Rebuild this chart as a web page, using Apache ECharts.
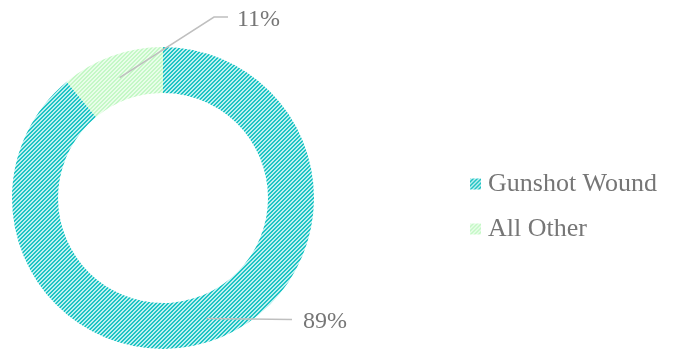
<!DOCTYPE html>
<html>
<head>
<meta charset="utf-8">
<script src="https://cdn.jsdelivr.net/npm/echarts@6/dist/echarts.min.js"></script>
<style>
  html, body { margin: 0; padding: 0; background: #ffffff; }
  #chart { width: 679px; height: 351px; }
</style>
</head>
<body>
<div id="chart"></div>
<script>
// Share of cases by cause
const categories = ['Gunshot Wound', 'All Other'];
const shares = [89, 11];

// Hatch fills: dark upward-diagonal stripes on a pale ground
function hatch(ground, stripe) {
  const c = document.createElement('canvas');
  c.width = 8; c.height = 8;
  const ctx = c.getContext('2d');
  ctx.fillStyle = ground;
  ctx.fillRect(0, 0, 8, 8);
  ctx.fillStyle = stripe;
  for (let y = 0; y < 8; y++) {
    for (let x = 0; x < 8; x++) {
      if ((x + y) % 4 >= 2) ctx.fillRect(x, y, 1, 1);
    }
  }
  return { image: c, repeat: 'repeat' };
}
const fills = [hatch('#bdefef', '#1fc4c4'), hatch('#e9fde9', '#c4f8c6')];

const font = 'Liberation Serif';
const grey = '#767676';

// Where each callout text sits and how its leader bends into it
const callouts = [
  { x: 303, y: 322, bend: (p, x, y) => [p, [x - 11, p[1] + 1]] },
  { x: 237, y: 20, bend: (p, x, y) => [p, [x - 23, y - 3], [x - 9, y - 3]] }
];

const chart = echarts.init(document.getElementById('chart'), null, { renderer: 'canvas' });

chart.setOption({
  animation: false,
  legend: {
    orient: 'vertical',
    left: 465,
    top: 166,
    itemWidth: 11,
    itemHeight: 11,
    itemGap: 19,
    icon: 'rect',
    textStyle: { fontFamily: font, fontSize: 26, color: grey, padding: [0, 0, 0, 2] },
    data: categories
  },
  series: [
    {
      name: 'ring',
      type: 'pie',
      center: [163, 198],
      radius: [105, 151],
      startAngle: 90,
      clockwise: true,
      z: 2,
      label: { show: false },
      labelLine: { show: false },
      emphasis: { disabled: true },
      itemStyle: { borderWidth: 0 },
      data: categories.map((name, i) => ({
        name, value: shares[i], itemStyle: { color: fills[i] }
      }))
    },
    {
      // transparent companion pie, drawn above the ring: its edge runs mid-ring,
      // so each leader starts inside its own slice
      name: 'callouts',
      type: 'pie',
      center: [163, 198],
      radius: [0, 128],
      startAngle: 90,
      clockwise: true,
      z: 5,
      silent: true,
      legendHoverLink: false,
      itemStyle: { color: 'rgba(0,0,0,0)' },
      emphasis: { disabled: true },
      label: {
        show: true,
        position: 'outside',
        formatter: p => p.value + '%',
        fontFamily: font,
        fontSize: 24,
        color: grey
      },
      labelLine: {
        show: true,
        length: 20,
        length2: 14,
        lineStyle: { color: '#bfbfbf', width: 1.5 }
      },
      labelLayout: p => {
        const c = callouts[p.dataIndex];
        const start = p.labelLinePoints ? p.labelLinePoints[0] : [c.x, c.y];
        return {
          x: c.x, y: c.y, align: 'left', verticalAlign: 'middle',
          labelLinePoints: c.bend(start, c.x, c.y)
        };
      },
      data: categories.map((name, i) => ({ name: name + ' ', value: shares[i] }))
    }
  ]
});
</script>
</body>
</html>
